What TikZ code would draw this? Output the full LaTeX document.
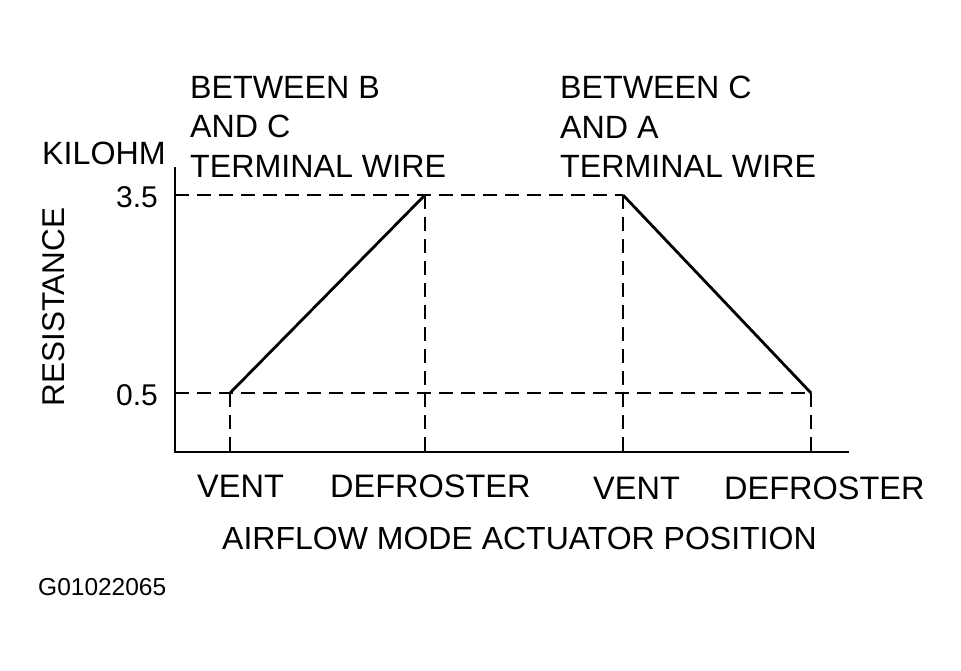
\documentclass[tikz,border=0pt]{standalone}
\usepackage{fontspec}
\setmainfont{Liberation Sans}
\begin{document}
\begin{tikzpicture}[x=1pt,y=-1pt,
  axisline/.style={line width=2.8pt},
  guideline/.style={line width=1.7pt,dash pattern=on 14pt off 8pt},
  curveline/.style={line width=2.8pt,line join=round},
  lbl/.style={inner sep=0pt,anchor=base west,font=\fontsize{32.2}{39.5}\selectfont},
  poslbl/.style={inner sep=0pt,anchor=base west,font=\fontsize{32.5}{36}\selectfont}]
\useasboundingbox (0,0) rectangle (961,670);
% key points
\coordinate (org) at (175,452);
\coordinate (ytop) at (175,167);
\coordinate (xend) at (849,452);
\coordinate (y35) at (175,195);
\coordinate (y05) at (175,393);
\coordinate (a1) at (230,393);
\coordinate (b1) at (425,195);
\coordinate (a2) at (623,195);
\coordinate (b2) at (811,393);
\coordinate (a1x) at (230,452);
\coordinate (b1x) at (425,452);
\coordinate (a2x) at (623,452);
\coordinate (b2x) at (811,452);
% guides
\draw[guideline] (y35) -- (a2);
\draw[guideline] (y05) -- (b2);
\draw[guideline] (a1) -- (a1x);
\draw[guideline] (b1) -- (b1x);
\draw[guideline] (a2) -- (a2x);
\draw[guideline] (b2) -- (b2x);
% axes
\draw[axisline] (ytop) -- (org) -- (xend);
% curves
\draw[curveline] (a1) -- (b1);
\draw[curveline] (a2) -- (b2);
% labels
\node[lbl] (k) at (42,164) {KILOHM};
\node[inner sep=0pt,anchor=base east,font=\fontsize{30}{36}\selectfont] (t35) at (158,207) {3.5};
\node[inner sep=0pt,anchor=base east,font=\fontsize{30}{36}\selectfont] (t05) at (158,405) {0.5};
\node[inner sep=0pt,anchor=base,rotate=90,font=\fontsize{31.5}{36}\selectfont] (res) at (64,307) {RESISTANCE};
\node[lbl] (l1a) at (190,98) {BETWEEN B};
\node[lbl] (l1b) at (190,137) {AND C};
\node[lbl] (l1c) at (190,177) {TERMINAL WIRE};
\node[lbl] (l2a) at (560,98) {BETWEEN C};
\node[lbl] (l2b) at (560,138) {AND A};
\node[lbl] (l2c) at (560,177) {TERMINAL WIRE};
\node[poslbl] (v1) at (197,497) {VENT};
\node[poslbl] (d1) at (330,497) {DEFROSTER};
\node[poslbl] (v2) at (593,499) {VENT};
\node[poslbl] (d2) at (724,499) {DEFROSTER};
\node[inner sep=0pt,anchor=base west,font=\fontsize{32}{36}\selectfont] (ax) at (222,549) {AIRFLOW MODE ACTUATOR POSITION};
\node[inner sep=0pt,anchor=base west,font=\fontsize{24.5}{28}\selectfont] (g) at (38,595) {G01022065};
\end{tikzpicture}
\end{document}
